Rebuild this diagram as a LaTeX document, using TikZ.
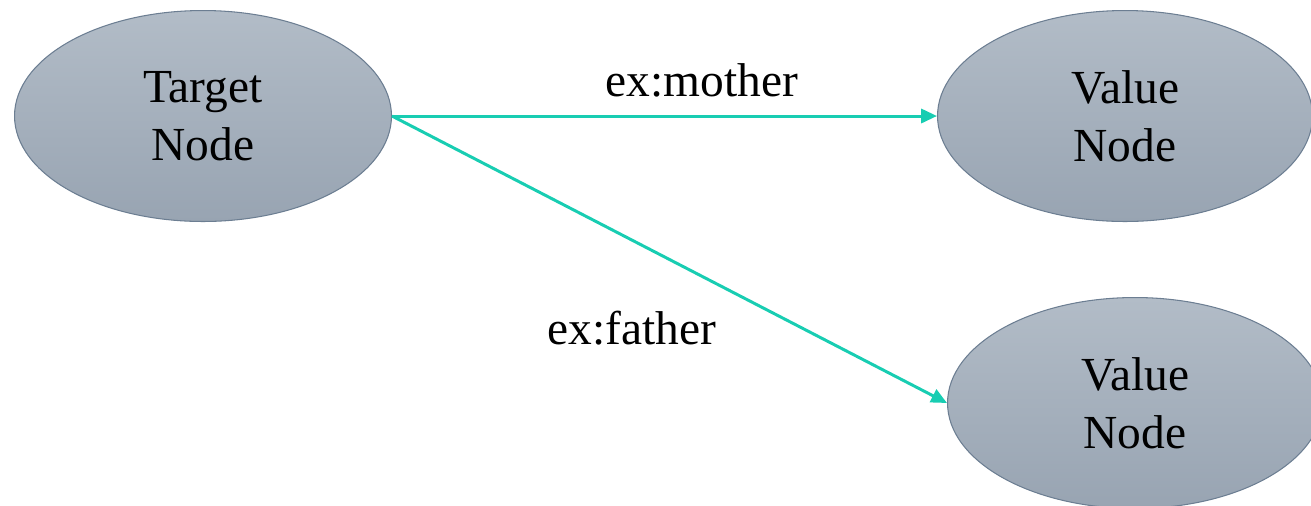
\documentclass[tikz,border=0pt]{standalone}
\usepackage{fontspec}
\setmainfont{Liberation Serif}
\usepackage{tikz}
\usepackage{xcolor}
\usetikzlibrary{arrows.meta,positioning,shapes.geometric}
\definecolor{cTop}{HTML}{B2BCC7}
\definecolor{cBot}{HTML}{98A4B2}
\definecolor{cRim}{HTML}{6C7E92}
\definecolor{cTeal}{HTML}{18CDB2}
\tikzset{
  ent/.style   ={ellipse,draw=cRim,line width=0.6pt,top color=cTop,bottom color=cBot,
                 minimum width=7.5cm,minimum height=4.22cm,align=center,
                 font=\fontsize{27}{33}\selectfont},
  rel/.style   ={-{Triangle[length=9pt,width=8pt]},line width=1.7pt,cTeal},
  lbl/.style   ={font=\fontsize{27}{33}\selectfont},
}
\begin{document}
\begin{tikzpicture}[x=0.02cm,y=-0.02cm]
\useasboundingbox (0,0) rectangle (1311,505);
\clip (0,0) rectangle (1311,505);
\node[ent,minimum width=7.54cm] (tgt) at (203,116) {Target\\Node};
\node[ent] (valM) at (1125,116) {Value\\Node};
\node[ent] (valF) at (1135,403) {Value\\Node};
\node[lbl] (lblM) at (702,80) {ex:mother};
\node[lbl] (lblF) at (632,328) {ex:father};
\draw[rel] (tgt.east) -- (valM.west);
\draw[rel] (tgt.east) -- (valF.west);
\end{tikzpicture}
\end{document}
